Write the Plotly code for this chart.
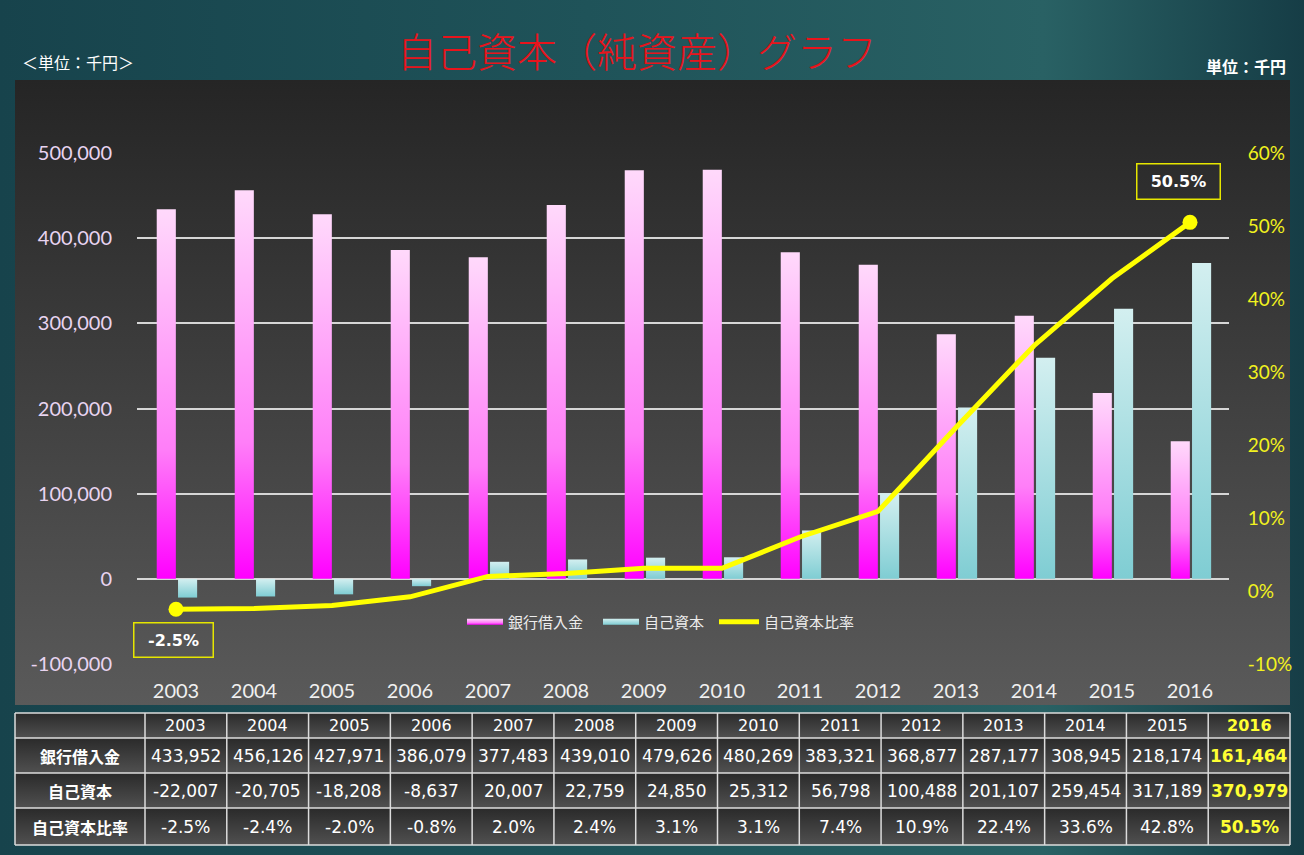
import base64
import plotly.graph_objects as go

# ---------------- data ----------------
years = [str(y) for y in range(2003, 2017)]
bank_loans = [433952, 456126, 427971, 386079, 377483, 439010, 479626,
              480269, 383321, 368877, 287177, 308945, 218174, 161464]
equity = [-22007, -20705, -18208, -8637, 20007, 22759, 24850,
          25312, 56798, 100488, 201107, 259454, 317189, 370979]
equity_ratio = [-2.5, -2.4, -2.0, -0.8, 2.0, 2.4, 3.1,
                3.1, 7.4, 10.9, 22.4, 33.6, 42.8, 50.5]
left_ticks = [-100000, 0, 100000, 200000, 300000, 400000, 500000]
right_ticks = [-10, 0, 10, 20, 30, 40, 50, 60]
series_names = ["銀行借入金", "自己資本", "自己資本比率"]
title_text = "自己資本（純資産）グラフ"
unit_left = "＜単位：千円＞"
unit_right = "単位：千円"

# ---------------- layout constants ----------------
W, H = 1304, 855
PL, PR, PT, PB = 137, 1229, 153, 664        # plot area in pixels
BAR_W, BAR_GAP, SHIFT = 0.245, 0.028, 0.012
CJK = "Noto Sans CJK JP"
TBL_X0, TBL_X1, TBL_LABEL_W = 15, 1290, 130
TBL_ROWS = [713, 738, 773, 808, 845]

fig = go.Figure()

pink_scale = [[0, "#ff00ff"], [0.35, "#ff7ef8"], [1, "#ffd9fb"]]
cyan_scale = [[0, "#7fcdd3"], [1, "#d3eff0"]]

for i, v in enumerate(bank_loans):
    c = i + SHIFT
    x0, x1 = c - BAR_GAP / 2 - BAR_W, c - BAR_GAP / 2
    fig.add_trace(go.Scatter(
        x=[x0, x1, x1, x0, x0], y=[0, 0, v, v, 0], mode="none",
        fill="toself", fillcolor="#ff80f8",
        fillgradient=dict(type="vertical", colorscale=pink_scale),
        name=series_names[0], legendgroup="bank", showlegend=(i == 0),
        hoverinfo="skip"))

for i, v in enumerate(equity):
    c = i + SHIFT
    x0, x1 = c + BAR_GAP / 2, c + BAR_GAP / 2 + BAR_W
    fig.add_trace(go.Scatter(
        x=[x0, x1, x1, x0, x0], y=[0, 0, v, v, 0], mode="none",
        fill="toself", fillcolor="#a8dfe2",
        fillgradient=dict(type="vertical", colorscale=cyan_scale),
        name=series_names[1], legendgroup="eq", showlegend=(i == 0),
        hoverinfo="skip"))

idx = list(range(len(years)))
fig.add_trace(go.Scatter(
    x=idx, y=equity_ratio, yaxis="y2", mode="lines",
    line=dict(color="#ffff00", width=5), legend="legend2",
    name=series_names[2], hoverinfo="skip"))
fig.add_trace(go.Scatter(
    x=[idx[0], idx[-1]], y=[equity_ratio[0], equity_ratio[-1]], yaxis="y2",
    mode="markers", marker=dict(color="#ffff00", size=15),
    showlegend=False, hoverinfo="skip"))

# ---------------- data table (grid lines + text) ----------------
ncol = len(years)
col_w = (TBL_X1 - TBL_X0 - TBL_LABEL_W) / ncol
col_edges = [TBL_X0, TBL_X0 + TBL_LABEL_W] + [TBL_X0 + TBL_LABEL_W + col_w * (k + 1) for k in range(ncol)]
col_centers = [(col_edges[k] + col_edges[k + 1]) / 2 for k in range(ncol + 1)]
row_centers = [(TBL_ROWS[k] + TBL_ROWS[k + 1]) / 2 for k in range(len(TBL_ROWS) - 1)]

px = lambda v: v / W
py = lambda v: 1 - v / H

shapes = []
line_style = dict(color="#dcdcdc", width=1.5)
for yv in TBL_ROWS:
    shapes.append(dict(type="line", xref="paper", yref="paper",
                       x0=px(TBL_X0), x1=px(TBL_X1), y0=py(yv), y1=py(yv), line=line_style))
for xv in col_edges:
    shapes.append(dict(type="line", xref="paper", yref="paper",
                       x0=px(xv), x1=px(xv), y0=py(TBL_ROWS[0]), y1=py(TBL_ROWS[-1]), line=line_style))

table_ann = []
num_font = "DejaVu Sans"
yellow = "#ffff33"
for j, yr in enumerate(years):
    last = j == ncol - 1
    table_ann.append(dict(text=f"<b>{yr}</b>" if last else yr, x=px(col_centers[j + 1]), y=py(row_centers[0]),
                          font=dict(family=num_font, size=16, color=yellow if last else "white")))
for r, name in enumerate(series_names):
    table_ann.append(dict(text=f"<b>{name}</b>", x=px(col_centers[0]), y=py(row_centers[r + 1]),
                          font=dict(family=CJK, size=16, color="white")))
for j in range(ncol):
    last = j == ncol - 1
    vals = [f"{bank_loans[j]:,}", f"{equity[j]:,}", f"{equity_ratio[j]:.1f}%"]
    for r, s in enumerate(vals):
        table_ann.append(dict(text=f"<b>{s}</b>" if last else s, x=px(col_centers[j + 1]),
                              y=py(row_centers[r + 1]),
                              font=dict(family=num_font, size=17, color=yellow if last else "white")))
for a in table_ann:
    a.update(xref="paper", yref="paper", showarrow=False, xanchor="center", yanchor="middle")

# ---------------- background decoration ----------------
rows_svg = "".join(
    f'<rect x="{TBL_X0}" y="{TBL_ROWS[k]}" width="{TBL_X1 - TBL_X0}" height="{TBL_ROWS[k + 1] - TBL_ROWS[k]}" fill="url(#cell)"/>'
    for k in range(len(TBL_ROWS) - 1))
svg = f'''<svg xmlns="http://www.w3.org/2000/svg" width="{W}" height="{H}" viewBox="0 0 {W} {H}" preserveAspectRatio="none">
<defs>
<linearGradient id="teal" x1="0" y1="0" x2="1" y2="0">
<stop offset="0" stop-color="#17434c"/><stop offset="0.45" stop-color="#1f5359"/>
<stop offset="0.8" stop-color="#296164"/><stop offset="1" stop-color="#163d46"/>
</linearGradient>
<linearGradient id="panel" x1="0" y1="0" x2="0" y2="1">
<stop offset="0" stop-color="#252525"/><stop offset="1" stop-color="#5a5a5a"/>
</linearGradient>
<linearGradient id="cell" x1="0" y1="0" x2="0" y2="1">
<stop offset="0" stop-color="#2a2a2a"/><stop offset="1" stop-color="#505050"/>
</linearGradient>
</defs>
<rect width="{W}" height="{H}" fill="url(#teal)"/>
<rect x="15" y="80" width="1275" height="625" fill="url(#panel)"/>
{rows_svg}
</svg>'''
src = "data:image/svg+xml;base64," + base64.b64encode(svg.encode()).decode()

box = dict(bordercolor="#e6e600", borderwidth=1.5, borderpad=0,
           font=dict(family="DejaVu Sans", size=16, color="white", weight="bold"),
           showarrow=False, xref="x", yref="y2")

legend_common = dict(orientation="h", y=1 - 622 / H, xanchor="left",
                     yanchor="middle", bgcolor="rgba(0,0,0,0)",
                     font=dict(family=CJK, size=15, color="#ececec"))

fig.update_layout(
    template="none",
    width=W, height=H,
    margin=dict(l=0, r=0, t=0, b=0, pad=0, autoexpand=False),
    paper_bgcolor="#1d4d55", plot_bgcolor="rgba(0,0,0,0)",
    images=[dict(source=src, xref="paper", yref="paper", x=0, y=1,
                 sizex=1, sizey=1, sizing="stretch", xanchor="left",
                 yanchor="top", layer="below")],
    hovermode=False,
    shapes=shapes,
    xaxis=dict(domain=[PL / W, PR / W], range=[-0.5, len(years) - 0.5],
               tickvals=idx, ticktext=years, showgrid=False, zeroline=False,
               showline=False, ticks="outside", ticklen=9, automargin=False,
               tickcolor="rgba(0,0,0,0)",
               tickfont=dict(family="Lato", size=20, color="#f0f0f0")),
    yaxis=dict(domain=[1 - PB / H, 1 - PT / H], range=[left_ticks[0], left_ticks[-1]],
               tickvals=left_ticks, ticktext=[f"{v:,}" for v in left_ticks],
               showgrid=True, gridcolor="#d6d6d6", gridwidth=1.6, automargin=False,
               zeroline=False, showline=False, ticks="outside", ticklen=20,
               tickcolor="rgba(0,0,0,0)",
               tickfont=dict(family="Lato", size=20, color="#e8d4f0")),
    yaxis2=dict(overlaying="y", side="right", range=[right_ticks[0], right_ticks[-1]],
                tickvals=right_ticks, ticktext=[f"{v}%" for v in right_ticks],
                showgrid=False, zeroline=False, showline=False, automargin=False,
                ticks="outside", ticklen=14, tickcolor="rgba(0,0,0,0)",
                tickfont=dict(family="Lato", size=19, color="#f2f21e")),
    legend=dict(x=462 / W, itemwidth=36, entrywidth=85, entrywidthmode="pixels",
                **legend_common),
    legend2=dict(x=714 / W, itemwidth=40, **legend_common),
    annotations=[
        dict(text=title_text, xref="paper", yref="paper", x=637 / W, y=1 - 50 / H,
             xanchor="center", yanchor="middle", showarrow=False,
             font=dict(family="Noto Sans CJK JP Light, " + CJK, size=40,
                       color="#e8141c", weight=300)),
        dict(text=unit_left, xref="paper", yref="paper", x=20 / W, y=1 - 62 / H,
             xanchor="left", yanchor="middle", showarrow=False,
             font=dict(family=CJK, size=16, color="white")),
        dict(text=unit_right, xref="paper", yref="paper", x=1288 / W, y=1 - 66 / H,
             xanchor="right", yanchor="middle", showarrow=False,
             font=dict(family=CJK, size=16, color="white", weight="bold")),
        dict(text=f"{equity_ratio[0]}%", x=idx[0], y=equity_ratio[0],
             xshift=-3, yshift=-31, width=78, height=33, **box),
        dict(text=f"{equity_ratio[-1]}%", x=idx[-1], y=equity_ratio[-1],
             xshift=-12, yshift=41, width=82, height=34, **box),
    ] + table_ann,
)

fig.write_html(
    "out.html",
    config={"displayModeBar": False},
    post_script="document.documentElement.style.margin='0';"
                "document.body.style.margin='0';document.body.style.padding='0';"
                "document.body.style.overflow='hidden';")
